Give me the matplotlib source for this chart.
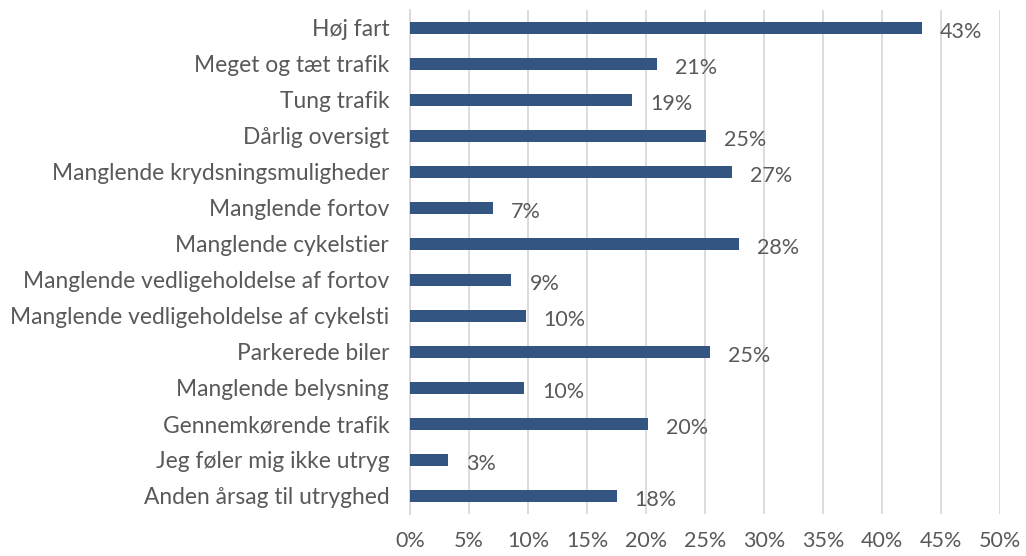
import numpy as np
import matplotlib
matplotlib.use("Agg")
import matplotlib.pyplot as plt

plt.rcParams['font.family'] = ['Lato', 'DejaVu Sans']

# Reasons for feeling unsafe, share of respondents (%)
reasons = [
    "Høj fart",
    "Meget og tæt trafik",
    "Tung trafik",
    "Dårlig oversigt",
    "Manglende krydsningsmuligheder",
    "Manglende fortov",
    "Manglende cykelstier",
    "Manglende vedligeholdelse af fortov",
    "Manglende vedligeholdelse af cykelsti",
    "Parkerede biler",
    "Manglende belysning",
    "Gennemkørende trafik",
    "Jeg føler mig ikke utryg",
    "Anden årsag til utryghed",
]
shares = [43.4, 20.9, 18.8, 25.1, 27.3, 7.0, 27.9, 8.6, 9.8, 25.4, 9.7, 20.2, 3.2, 17.5]
ticks = np.arange(0, 51, 5)

bar_color = "#335581"
text_color = "#595959"
grid_color = "#D9D9D9"

fig = plt.figure(figsize=(10.26, 5.56), dpi=100)
ax = fig.add_axes([410 / 1026, 42 / 556, 590 / 1026, 504 / 556])

y = np.arange(len(reasons))
ax.barh(y, shares, height=0.36, color=bar_color, zorder=3)

for yi, v in zip(y, shares):
    ax.annotate(f"{v:.0f}%", (v, yi), xytext=(13, -3), textcoords="offset points",
                va="center", ha="left", fontsize=15.5, color=text_color)

ax.set_xlim(0, 50)
ax.set_ylim(len(reasons) - 0.5, -0.5)
ax.set_xticks(ticks)
ax.set_xticklabels([f"{t}%" for t in ticks])
ax.set_yticks(y)
ax.set_yticklabels(reasons)

ax.grid(axis="x", color=grid_color, linewidth=1.3, zorder=0)
for s in ["top", "right", "bottom"]:
    ax.spines[s].set_visible(False)
ax.spines["left"].set_color(grid_color)
ax.spines["left"].set_linewidth(1.3)

ax.tick_params(axis="both", length=0, colors=text_color)
ax.tick_params(axis="x", pad=12, labelsize=15.5)
ax.tick_params(axis="y", pad=15, labelsize=16.4)

fig.savefig("out.png", dpi=100)
